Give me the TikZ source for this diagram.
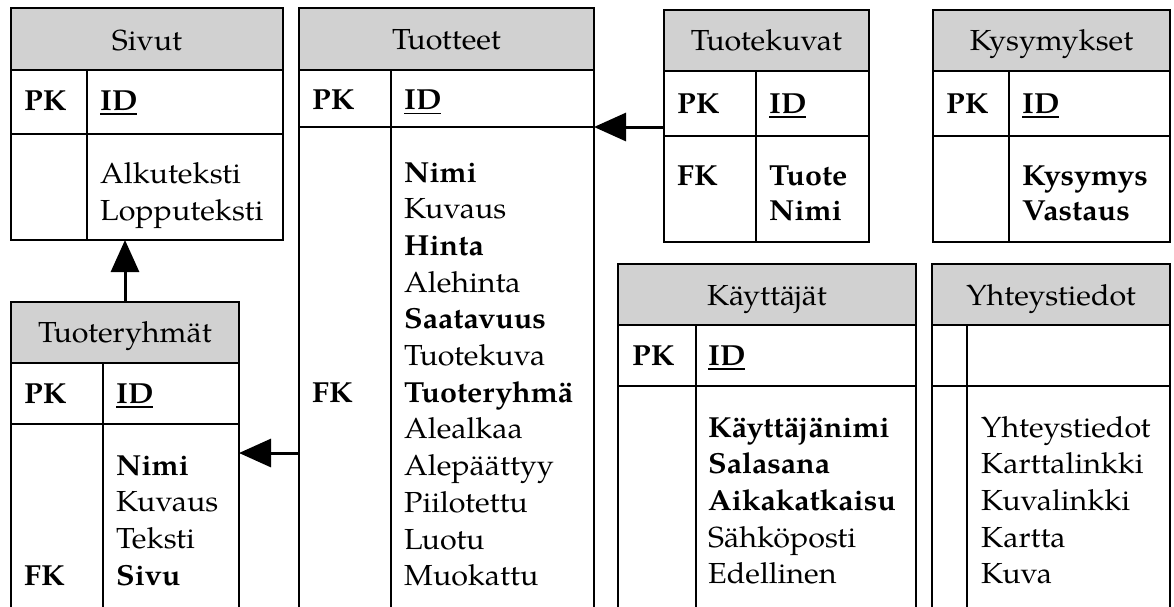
\documentclass[tikz,border=0pt]{standalone}
\usepackage{fontspec}
\setmainfont[FakeStretch=1.05]{TeX Gyre Pagella}
\usetikzlibrary{arrows.meta}
\definecolor{hdrgray}{RGB}{209,209,209}
\newcommand\dfont{\fontsize{29}{34}\selectfont}
\newcommand\idul[1]{\setbox0\hbox{#1}\rlap{\rule[-4.5pt]{\wd0}{1.5pt}}\box0}
% table frame: name, left, top, right, header bottom, key row bottom, bottom, divider
\newcommand\ertab[8]{%
  \node[hdr, minimum width={#4-#2}, minimum height={#5-#3}] (#1-head) at (#2,#3) {};
  \node[cell, minimum width={#8-#2}, minimum height={#6-#5}] (#1-kl) at (#2,#5) {};
  \node[cell, minimum width={#4-#8}, minimum height={#6-#5}] (#1-kr) at (#8,#5) {};
  \node[cell, minimum width={#8-#2}, minimum height={#7-#6}] (#1-bl) at (#2,#6) {};
  \node[cell, minimum width={#4-#8}, minimum height={#7-#6}] (#1-br) at (#8,#6) {};
}
% field list: name, x, first baseline, spacing, items
\newcommand\flist[5]{%
  \foreach \fitem [count=\i] in {#5} {\node[fld] (#1-\i) at ({#2},{#3+(\i-1)*#4}) {\fitem};}%
}
\begin{document}
\begin{tikzpicture}[x=1pt,y=-1pt,
  box/.style={draw, line width=2pt, inner sep=0pt, outer sep=0pt, anchor=north west},
  hdr/.style={box, fill=hdrgray},
  cell/.style={box},
  ttl/.style={font=\dfont, anchor=base, inner sep=0pt},
  lbl/.style={font=\dfont\bfseries, anchor=base west, inner sep=0pt},
  fld/.style={font=\dfont, anchor=base west, inner sep=0pt},
  rel/.style={line width=3pt, -{Triangle[length=32pt,width=28pt]}},
]
\useasboundingbox (0,0) rectangle (1174,606);

% Sivut
\ertab{siv}{11}{8}{283}{70}{134}{240}{87}
\node[ttl] (siv-t) at (147,50) {Sivut};
\node[lbl] (siv-pk) at (24,110) {PK};
\node[lbl] (siv-id) at (100,110) {\idul{ID}};
\flist{siv-f}{100}{183}{37}{Alkuteksti,Lopputeksti}

% Tuotteet
\ertab{tt}{299}{8}{594}{70}{127}{625}{391}
\node[ttl] (tt-t) at (446.5,49) {Tuotteet};
\node[lbl] (tt-pk) at (312,109.5) {PK};
\node[lbl] (tt-id) at (404,109.5) {\idul{ID}};
\node[lbl] (tt-fk) at (312,402.2) {FK};
\flist{tt-f}{404}{182}{36.7}{{\textbf{Nimi}},Kuvaus,{\textbf{Hinta}},Alehinta,{\textbf{Saatavuus}},Tuotekuva,{\textbf{Tuoteryhmä}},Alealkaa,Alepäättyy,Piilotettu,Luotu,Muokattu}

% Tuotekuvat
\ertab{tk}{664}{10}{869}{71}{136}{242}{756}
\node[ttl] (tk-t) at (766.5,50) {Tuotekuvat};
\node[lbl] (tk-pk) at (677,113) {PK};
\node[lbl] (tk-id) at (769,113) {\idul{ID}};
\node[lbl] (tk-fk) at (677,185) {FK};
\flist{tk-f}{769}{185}{35}{{\textbf{Tuote}},{\textbf{Nimi}}}

% Kysymykset
\ertab{ky}{933}{10}{1170}{71}{136}{242}{1009}
\node[ttl] (ky-t) at (1051.5,50) {Kysymykset};
\node[lbl] (ky-pk) at (946,113) {PK};
\node[lbl] (ky-id) at (1022,113) {\idul{ID}};
\flist{ky-f}{1022}{185}{35}{{\textbf{Kysymys}},{\textbf{Vastaus}}}

% Käyttäjät
\ertab{ka}{618}{264}{916}{325}{386}{625}{696}
\node[ttl] (ka-t) at (767,305) {Käyttäjät};
\node[lbl] (ka-pk) at (632,365) {PK};
\node[lbl] (ka-id) at (708,365) {\idul{ID}};
\flist{ka-f}{708}{437}{36.7}{{\textbf{Käyttäjänimi}},{\textbf{Salasana}},{\textbf{Aikakatkaisu}},Sähköposti,Edellinen}

% Yhteystiedot
\ertab{yt}{932}{264}{1170}{325}{386}{625}{967}
\node[ttl] (yt-t) at (1051,305) {Yhteystiedot};
\flist{yt-f}{981}{437}{36.7}{Yhteystiedot,Karttalinkki,Kuvalinkki,Kartta,Kuva}

% Tuoteryhmät
\ertab{tr}{11}{302}{239}{363}{424}{625}{103}
\node[ttl] (tr-t) at (125,342) {Tuoteryhmät};
\node[lbl] (tr-pk) at (24,403) {PK};
\node[lbl] (tr-id) at (116,403) {\idul{ID}};
\node[lbl] (tr-fk) at (24,585) {FK};
\flist{tr-f}{116}{475}{36.7}{{\textbf{Nimi}},Kuvaus,Teksti,{\textbf{Sivu}}}

% relations
\coordinate (tr-link) at (0,453);
\draw[rel] (tr-head.north) -- (tr-head.north |- siv-bl.south);
\draw[rel] (tt-bl.west |- tr-link) -- (tr-br.east |- tr-link);
\draw[rel] (tk-kl.west |- tt-kr.south) -- (tt-kr.south east);
\end{tikzpicture}
\end{document}
